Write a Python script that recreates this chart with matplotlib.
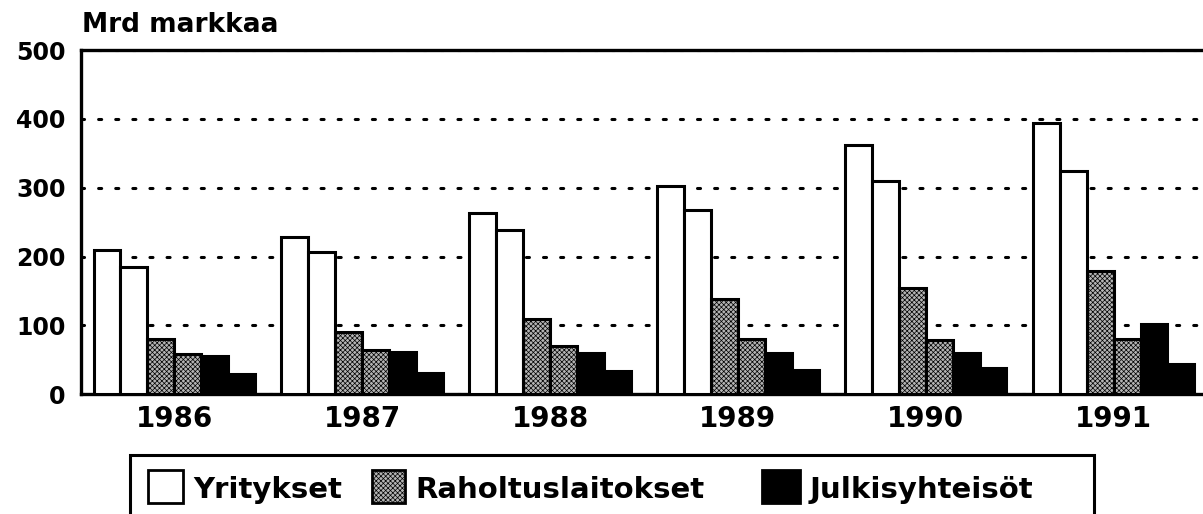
import matplotlib
matplotlib.use("Agg")
import matplotlib.pyplot as plt
from matplotlib.patches import Rectangle
import numpy as np

# ---- data ----
years = ["1986", "1987", "1988", "1989", "1990", "1991"]
yritykset_a = [210, 229, 264, 303, 362, 394]
yritykset_b = [185, 206, 238, 268, 310, 325]
rahoitus_a = [80, 90, 110, 138, 154, 179]
rahoitus_b = [58, 65, 70, 80, 79, 81]
julkiset_a = [55, 61, 60, 60, 60, 102]
julkiset_b = [29, 31, 34, 36, 38, 44]
yticks = [0, 100, 200, 300, 400, 500]
legend_labels = ["Yritykset", "Raholtuslaitokset", "Julkisyhteisöt"]
y_title = "Mrd markkaa"

plt.rcParams['font.family'] = ['DejaVu Sans']
plt.rcParams['hatch.linewidth'] = 0.5

W, H = 1203, 514
fig = plt.figure(figsize=(W / 100, H / 100), dpi=100)

def fx(px):
    return px / W

def fy(py):
    return 1 - py / H

ax_left, ax_right, ax_top, ax_bot = 80.7, 1203, 50, 394.3
ax = fig.add_axes([fx(ax_left), fy(ax_bot), fx(ax_right - ax_left), (ax_bot - ax_top) / H])

GRAY = dict(facecolor="#b4b4b4", hatch="xxxxxxx")
x = np.arange(len(years))
w = 0.143
series = [
    (yritykset_a, dict(facecolor="white")),
    (yritykset_b, dict(facecolor="white")),
    (rahoitus_a, GRAY),
    (rahoitus_b, GRAY),
    (julkiset_a, dict(facecolor="black")),
    (julkiset_b, dict(facecolor="black")),
]
for k, (vals, style) in enumerate(series):
    ax.bar(x + (k - 2.5) * w, vals, width=w, edgecolor="black",
           linewidth=2.2, zorder=3, **style)

ax.set_xlim(-0.4976, 5.475)
ax.set_ylim(0, 500)
ax.set_yticks(yticks)
ax.set_yticklabels([str(v) for v in yticks])
ax.set_xticks(x)
ax.set_xticklabels(years)
ax.tick_params(axis="y", length=0, pad=11, labelsize=17)
ax.tick_params(axis="x", length=0, pad=8, labelsize=20)
for lab in ax.get_xticklabels() + ax.get_yticklabels():
    lab.set_fontweight("bold")

ax.yaxis.grid(True, color="black", linewidth=2.2, linestyle=(0, (1, 4.6)),
              dash_capstyle="round", zorder=1)
ax.xaxis.grid(False)
ax.set_axisbelow(True)
for s in ["left", "top", "bottom"]:
    ax.spines[s].set_linewidth(2.4)
ax.spines["right"].set_visible(False)

fig.text(fx(82), fy(32), y_title, fontsize=19, fontweight="bold",
         ha="left", va="baseline")

# ---- legend (box extends below image) ----
fig.patches.append(Rectangle((fx(130), fy(540)), fx(1094 - 130), (540 - 455) / H,
                             transform=fig.transFigure, facecolor="white",
                             edgecolor="black", linewidth=2.2, zorder=1))
handles = [
    (148, 183, dict(facecolor="white")),
    (372, 405, GRAY),
    (762, 800, dict(facecolor="black")),
]
text_x = [193, 415, 810]
for (x0, x1, st), tx, lab in zip(handles, text_x, legend_labels):
    fig.patches.append(Rectangle((fx(x0), fy(503)), fx(x1 - x0), 33 / H,
                                 transform=fig.transFigure, edgecolor="black",
                                 linewidth=2.0, zorder=2, **st))
    fig.text(fx(tx), fy(498), lab, fontsize=21, fontweight="bold",
             ha="left", va="baseline", zorder=3)

fig.savefig("out.png", dpi=100)
